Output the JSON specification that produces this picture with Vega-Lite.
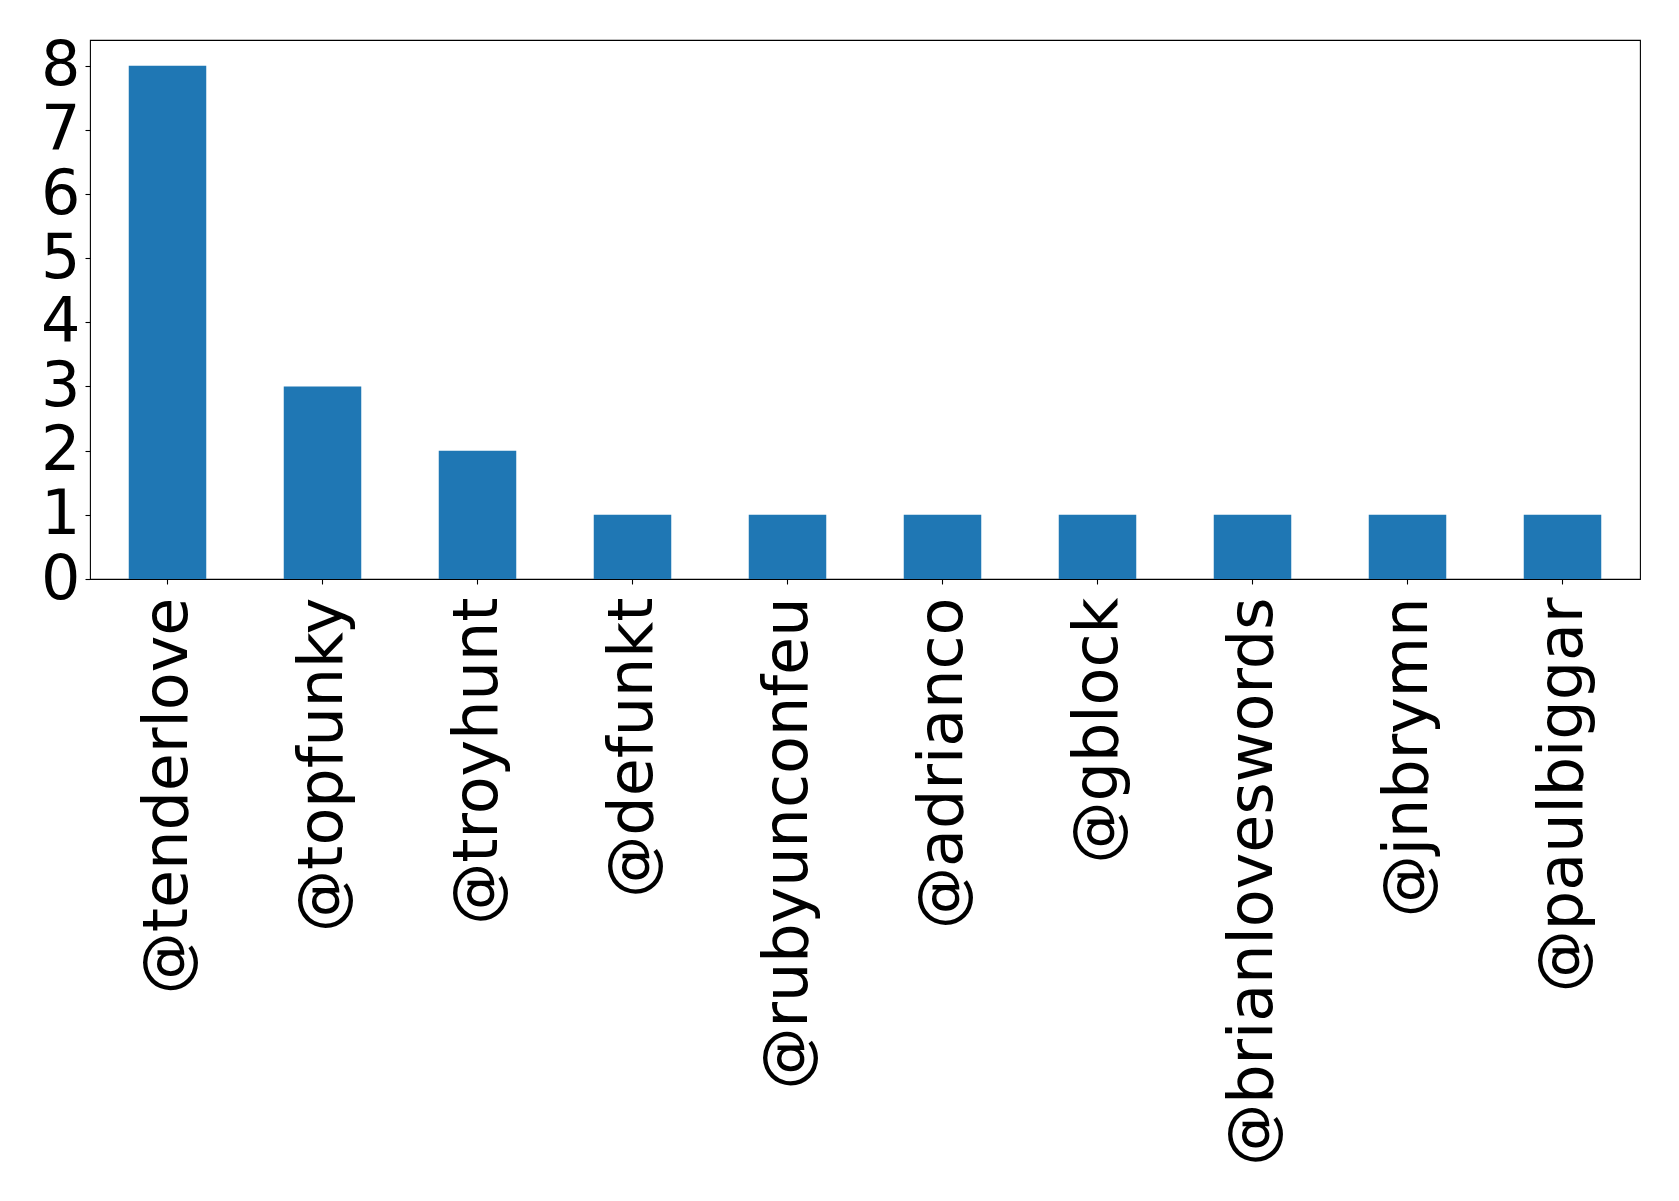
{
  "$schema": "https://vega.github.io/schema/vega-lite/v6.json",
  "width": 1550,
  "height": 539,
  "autosize": "none",
  "padding": {"left": 90, "top": 40, "right": 39, "bottom": 622},
  "background": "white",
  "config": {
    "view": {"stroke": "black", "strokeWidth": 1.1},
    "font": "DejaVu Sans"
  },
  "data": {
    "values": [
      {"user": "@tenderlove", "count": 8},
      {"user": "@topfunky", "count": 3},
      {"user": "@troyhunt", "count": 2},
      {"user": "@defunkt", "count": 1},
      {"user": "@rubyunconfeu", "count": 1},
      {"user": "@adrianco", "count": 1},
      {"user": "@gblock", "count": 1},
      {"user": "@brianloveswords", "count": 1},
      {"user": "@jnbrymn", "count": 1},
      {"user": "@paulbiggar", "count": 1}
    ]
  },
  "mark": {"type": "bar", "color": "#1f77b4"},
  "encoding": {
    "x": {
      "field": "user",
      "type": "nominal",
      "sort": null,
      "scale": {"paddingInner": 0.5, "paddingOuter": 0.25},
      "axis": {
        "title": null,
        "labelAngle": 270,
        "labelAlign": "right",
        "labelBaseline": "middle",
        "labelFont": "DejaVu Sans",
        "labelFontSize": 62,
        "labelColor": "black",
        "labelPadding": 13,
        "labelLimit": 0,
        "labelOverlap": false,
        "tickSize": 5,
        "tickColor": "black",
        "tickWidth": 1.1,
        "domain": false,
        "grid": false
      }
    },
    "y": {
      "field": "count",
      "type": "quantitative",
      "scale": {"domain": [0, 8.4], "nice": false, "zero": true},
      "axis": {
        "title": null,
        "values": [0, 1, 2, 3, 4, 5, 6, 7, 8],
        "labelFont": "DejaVu Sans",
        "labelFontSize": 62,
        "labelColor": "black",
        "labelPadding": 5,
        "labelBaseline": "middle",
        "labelFlush": false,
        "labelOverlap": false,
        "tickSize": 5,
        "tickColor": "black",
        "tickWidth": 1.1,
        "domain": false,
        "grid": false
      }
    }
  }
}
